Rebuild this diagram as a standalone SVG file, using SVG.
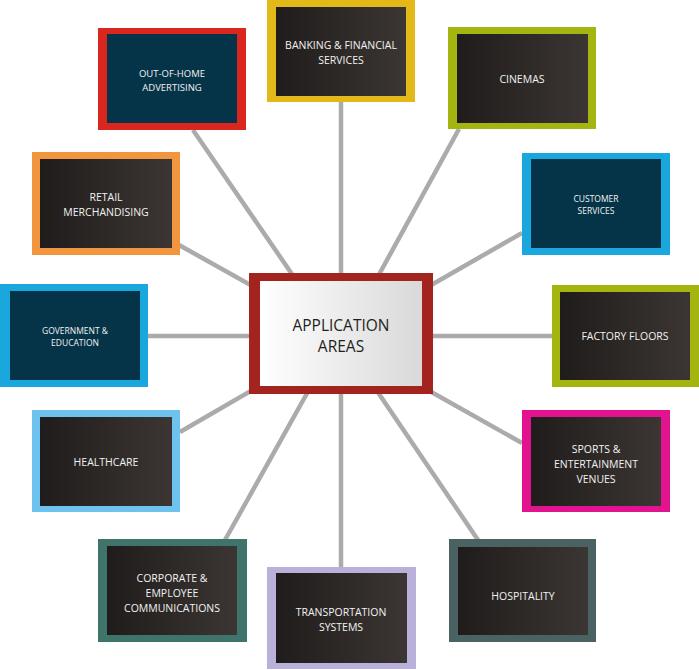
<svg xmlns="http://www.w3.org/2000/svg" width="699" height="670" viewBox="0 0 699 670">
<defs>
<linearGradient id="dark" x1="0" y1="0" x2="1" y2="0">
<stop offset="0" stop-color="#201c1b"/>
<stop offset="1" stop-color="#3b3633"/>
</linearGradient>
<linearGradient id="light" x1="0" y1="0" x2="1" y2="0">
<stop offset="0" stop-color="#ffffff"/>
<stop offset="1" stop-color="#d9d9d9"/>
</linearGradient>
<style>
.c line{stroke:#ababab;stroke-width:4.5}
.in{fill:url(#dark)}
.teal{fill:#053347}
text{font-family:"Open Sans","Liberation Sans",sans-serif;fill:#f2f2f2;text-anchor:middle;font-size:10.5px}
.s{font-size:8.5px}
.m{font-size:9.5px}
.ct{fill:#231f20;font-size:15.5px}
</style>
</defs>
<rect width="699" height="670" fill="#ffffff"/>
<g class="c" id="connectors">
<line x1="341" y1="102" x2="341" y2="280"/>
<line x1="193" y1="130" x2="296" y2="280"/>
<line x1="459" y1="129" x2="376" y2="280"/>
<line x1="179" y1="245" x2="256" y2="288"/>
<line x1="522" y1="233" x2="426" y2="288"/>
<line x1="148" y1="336" x2="256" y2="336"/>
<line x1="552" y1="336" x2="426" y2="336"/>
<line x1="180" y1="432" x2="256" y2="388"/>
<line x1="522" y1="443" x2="426" y2="389"/>
<line x1="225" y1="540" x2="310" y2="388"/>
<line x1="341" y1="567" x2="341" y2="388"/>
<line x1="478" y1="540" x2="375" y2="388"/>
</g>
<g id="center">
<rect x="249" y="273" width="184" height="121" fill="#a3241f"/>
<rect x="260" y="281" width="162" height="105" fill="url(#light)"/>
<text class="ct" x="341" y="331">APPLICATION</text>
<text class="ct" x="341" y="352">AREAS</text>
</g>
<g id="banking">
<rect x="267" y="0" width="148" height="102" fill="#e3b919"/>
<rect class="in" x="276" y="7" width="130" height="89"/>
<text x="341" y="49">BANKING &amp; FINANCIAL</text>
<text x="341" y="64">SERVICES</text>
</g>
<g id="outofhome">
<rect x="98" y="28" width="148" height="102" fill="#d9261f"/>
<rect class="teal" x="107" y="34" width="130" height="89"/>
<text class="m" x="172" y="77">OUT-OF-HOME</text>
<text class="m" x="172" y="91">ADVERTISING</text>
</g>
<g id="cinemas">
<rect x="448" y="27" width="148" height="102" fill="#a3b50e"/>
<rect class="in" x="457" y="34" width="131" height="89"/>
<text x="522" y="83">CINEMAS</text>
</g>
<g id="retail">
<rect x="32" y="152" width="148" height="103" fill="#f1963f"/>
<rect class="in" x="40" y="159" width="132" height="89"/>
<text x="106" y="201">RETAIL</text>
<text x="106" y="216">MERCHANDISING</text>
</g>
<g id="customer">
<rect x="522" y="153" width="148" height="102" fill="#1aa7dd"/>
<rect class="teal" x="531" y="159" width="130" height="89"/>
<text class="s" x="596" y="202">CUSTOMER</text>
<text class="s" x="596" y="214">SERVICES</text>
</g>
<g id="government">
<rect x="0" y="284" width="148" height="103" fill="#1aa7dd"/>
<rect class="teal" x="10" y="291" width="130" height="89"/>
<text class="s" x="75" y="334">GOVERNMENT &amp;</text>
<text class="s" x="75" y="346">EDUCATION</text>
</g>
<g id="factory">
<rect x="552" y="285" width="148" height="102" fill="#a3b50e"/>
<rect class="in" x="560" y="292" width="130" height="88"/>
<text x="625" y="340">FACTORY FLOORS</text>
</g>
<g id="healthcare">
<rect x="32" y="410" width="148" height="102" fill="#6ec2ee"/>
<rect class="in" x="40" y="417" width="132" height="89"/>
<text x="106" y="466">HEALTHCARE</text>
</g>
<g id="sports">
<rect x="522" y="410" width="148" height="102" fill="#e1138f"/>
<rect class="in" x="531" y="417" width="130" height="89"/>
<text x="596" y="453">SPORTS &amp;</text>
<text x="596" y="468">ENTERTAINMENT</text>
<text x="596" y="483">VENUES</text>
</g>
<g id="corporate">
<rect x="98" y="539" width="149" height="103" fill="#3e7469"/>
<rect class="in" x="107" y="546" width="130" height="89"/>
<text x="172" y="582">CORPORATE &amp;</text>
<text x="172" y="597">EMPLOYEE</text>
<text x="172" y="612">COMMUNICATIONS</text>
</g>
<g id="hospitality">
<rect x="449" y="539" width="147" height="103" fill="#4b6262"/>
<rect class="in" x="458" y="547" width="130" height="88"/>
<text x="523" y="600">HOSPITALITY</text>
</g>
<g id="transportation">
<rect x="267" y="567" width="149" height="102" fill="#b9b1d9"/>
<rect class="in" x="276" y="573" width="131" height="90"/>
<text x="341" y="616">TRANSPORTATION</text>
<text x="341" y="631">SYSTEMS</text>
</g>
</svg>
